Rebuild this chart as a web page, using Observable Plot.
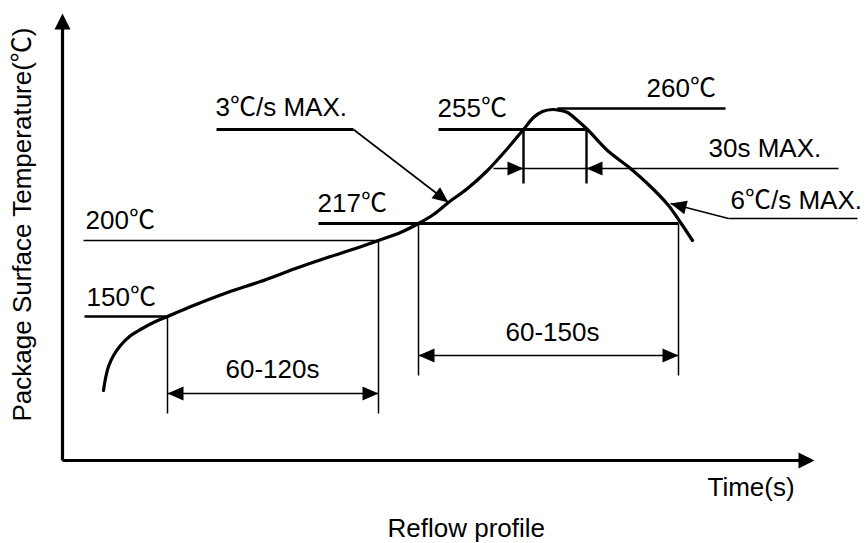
<!DOCTYPE html>
<html>
<head>
<meta charset="utf-8">
<script src="https://cdn.jsdelivr.net/npm/d3@7"></script>
<script src="https://cdn.jsdelivr.net/npm/@observablehq/plot@0.6"></script>
<style>
  html, body { margin: 0; padding: 0; background: #fff; }
  #chart svg { display: block; }
</style>
</head>
<body>
<div id="chart"></div>
<script>
// Schematic units: t = horizontal position along the time axis, v = height above the time axis
const profileT = [41, 43, 46, 51, 58, 67, 78, 91, 105, 131, 165, 198, 233, 265, 293, 316, 338, 356, 371, 386, 405, 425, 445, 461, 471, 480, 490, 498, 505, 515, 525, 545, 568, 588, 606, 618, 630];
const profileV = [70, 82, 94, 105, 115, 124, 131, 138, 144, 155, 168, 179, 192, 203, 212, 220, 228, 237, 246, 258, 272, 290, 312, 331, 343, 349, 351, 350, 348, 340, 331, 310, 292, 274, 255, 238, 220];

// level / guide segments [t1, v1, t2, v2]
const thickLines = [[256, 237, 616, 237], [376, 331, 524, 331], [154, 331, 291, 331]];
const mediumLines = [[22, 144, 105, 144], [461, 331, 461, 277], [524, 331, 524, 277], [495, 352, 663, 352]];
const thinLines = [[21, 220, 316, 220], [105, 144, 105, 47], [316, 220, 316, 47], [356, 237, 356, 85], [616, 237, 616, 85], [666, 242, 795, 242]];
const arrowLines = [[105, 67, 316, 67], [356, 105, 616, 105], [431, 292, 776, 292], [291, 331, 386, 258], [666, 242, 608, 257]];
const axisLines = [[0, 0, 0, 440], [0, 0, 745, 0]];

// arrow heads: [tipT, tipV, fromT, fromV]
const heads = [[105, 67, 316, 67], [316, 67, 105, 67], [356, 105, 616, 105], [616, 105, 356, 105], [461, 292, 431, 292], [524, 292, 776, 292], [386, 258, 291, 331], [608, 257, 666, 242]];
const axisHeads = [[0, 447, 0, 0], [752, 0, 0, 0]];

// annotation texts
const levelLabels = ["150℃", "200℃", "217℃", "255℃", "260℃", "3℃/s MAX.", "30s MAX.", "6℃/s MAX."];
const levelLabelT = [24, 23, 255, 375, 584, 153, 646, 668];
const levelLabelV = [163, 240, 257, 352, 372, 353, 312, 260];
const spanLabels = ["60-120s", "60-150s"];
const spanLabelT = [210, 490];
const spanLabelV = [91, 128];
const xTitle = "Time(s)";
const yTitle = "Package Surface Temperature(℃)";
const caption = "Reflow profile";

const FONT = "'Liberation Sans', Arial, 'Noto Sans CJK SC', sans-serif";

const segs = (arr) => arr.map(([t1, v1, t2, v2]) => ({t1, v1, t2, v2}));
const headData = (arr) => arr.map(([t, v, ft, fv]) => ({t, v, rot: Math.atan2(t - ft, v - fv) * 180 / Math.PI}));

const smallHead = {draw(ctx) { ctx.moveTo(0, 0); ctx.lineTo(-7, 16); ctx.lineTo(7, 16); ctx.closePath(); }};
const bigHead = {draw(ctx) { ctx.moveTo(0, 0); ctx.lineTo(-8, 16); ctx.lineTo(8, 16); ctx.closePath(); }};

const profile = profileT.map((t, i) => ({t, v: profileV[i]}));
const lvl = levelLabels.map((s, i) => ({s, t: levelLabelT[i], v: levelLabelV[i]}));
const spans = spanLabels.map((s, i) => ({s, t: spanLabelT[i], v: spanLabelV[i]}));

const chart = Plot.plot({
  width: 866,
  height: 543,
  margin: 0,
  style: {fontFamily: FONT, background: "#fff"},
  x: {domain: [-62, 804], range: [0, 866], axis: null},
  y: {domain: [-83, 460], range: [543, 0], axis: null},
  marks: [
    Plot.link(segs(axisLines), {x1: "t1", y1: "v1", x2: "t2", y2: "v2", stroke: "black", strokeWidth: 3.2}),
    Plot.dot(headData(axisHeads), {x: "t", y: "v", rotate: "rot", symbol: bigHead, fill: "black", stroke: "none"}),
    Plot.link(segs(thickLines), {x1: "t1", y1: "v1", x2: "t2", y2: "v2", stroke: "black", strokeWidth: 3}),
    Plot.link(segs(mediumLines), {x1: "t1", y1: "v1", x2: "t2", y2: "v2", stroke: "black", strokeWidth: 2.4}),
    Plot.link(segs(thinLines), {x1: "t1", y1: "v1", x2: "t2", y2: "v2", stroke: "black", strokeWidth: 1.5}),
    Plot.link(segs(arrowLines), {x1: "t1", y1: "v1", x2: "t2", y2: "v2", stroke: "black", strokeWidth: 1.6}),
    Plot.dot(headData(heads), {x: "t", y: "v", rotate: "rot", symbol: smallHead, fill: "black", stroke: "none"}),
    Plot.line(profile, {x: "t", y: "v", curve: "catmull-rom", stroke: "black", strokeWidth: 3.2}),
    Plot.text(lvl, {x: "t", y: "v", text: "s", textAnchor: "start", fontSize: 26, fill: "black"}),
    Plot.text(spans, {x: "t", y: "v", text: "s", textAnchor: "middle", fontSize: 26, fill: "black"}),
    Plot.text([xTitle], {x: 645, y: -27, text: d => d, textAnchor: "start", fontSize: 26, fill: "black"}),
    Plot.text([yTitle], {x: -40, y: 236, text: d => d, rotate: -90, textAnchor: "middle", fontSize: 26, fill: "black"}),
    Plot.text([caption], {x: 325, y: -68, text: d => d, textAnchor: "start", fontSize: 26, fill: "black"})
  ]
});
document.getElementById("chart").appendChild(chart);
</script>
</body>
</html>
